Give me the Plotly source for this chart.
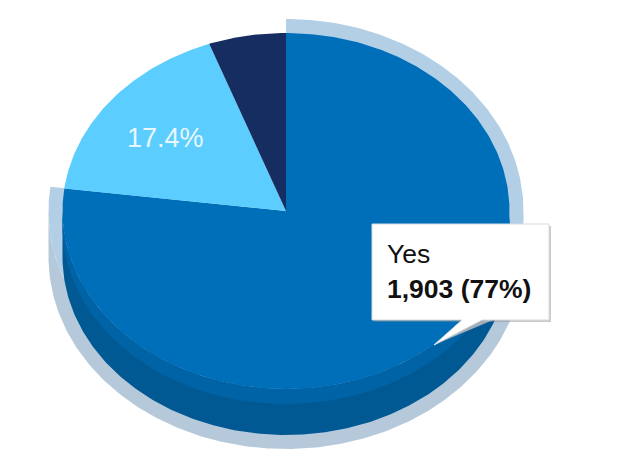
import numpy as np
import plotly.graph_objects as go

categories = ["Yes", "Somewhat", "No"]
values = [1903, 430, 138]
slice_colors = ["#006fba", "#5bcdfe", "#152d60"]
tooltip_category = "Yes"
shown_label = "Somewhat"

CX, CY, RX, RY = 286, 211, 223.5, 178
DEPTH, BAND = 46, 15
HALO = 14

total = sum(values)
fracs = [v / total for v in values]
edges = np.cumsum([0] + fracs) * 2 * np.pi


def arc(t0, t1, rx=RX, ry=RY, dy=0):
    t = np.linspace(t0, t1, max(3, int(abs(t1 - t0) * 80)))
    return CX + rx * np.sin(t), CY + dy - ry * np.cos(t)


def poly(x, y, color, opacity=1.0):
    return go.Scatter(x=list(x), y=list(y), mode="lines", fill="toself", fillcolor=color,
                      line=dict(width=0, color=color), opacity=opacity, hoverinfo="skip",
                      showlegend=False)


fig = go.Figure()

# highlight ring: greyer extruded part behind the side, lighter part behind the face
end = edges[1]
xa, ya = arc(np.pi / 2, 3 * np.pi / 2, RX + HALO, RY + HALO, DEPTH)
xb, yb = arc(3 * np.pi / 2, np.pi / 2, RX + HALO, RY + HALO)
fig.add_trace(poly(np.r_[xa, xb], np.r_[ya, yb], "#b5c9db"))
x1, y1 = arc(0, end, RX + HALO, RY + HALO)
fig.add_trace(poly(np.r_[CX, x1, CX], np.r_[CY, y1, CY], "#b3cfe6"))

# pie side
for dy, col in ((DEPTH, "#005993"), (BAND, "#0063a6")):
    xa, ya = arc(np.pi / 2, 3 * np.pi / 2, dy=dy)
    xb, yb = arc(3 * np.pi / 2, np.pi / 2)
    fig.add_trace(poly(np.r_[xa, xb], np.r_[ya, yb], col))

# pie faces
for i, col in enumerate(slice_colors):
    xs, ys = arc(edges[i], edges[i + 1])
    fig.add_trace(poly(np.r_[CX, xs, CX], np.r_[CY, ys, CY], col))

# tooltip
L, R, T, B = 372, 549, 224, 320
tip = (434, 345)
bx = [L, R, R, 482, tip[0], 462, L, L]
by = [T, T, B, B, tip[1], B, B, T]
fig.add_trace(poly([L + 2, R + 2, R + 2, L + 2, L + 2], [T + 2, T + 2, B + 2, B + 2, T + 2], "#8c8c8c", 0.45))
fig.add_trace(poly([462, 493, tip[0]], [B, B, tip[1]], "#a3adb6"))
fig.add_trace(go.Scatter(x=bx, y=by, mode="lines", fill="toself", fillcolor="#ffffff",
                         line=dict(width=1, color="#d5dde4"), hoverinfo="skip", showlegend=False))

idx = categories.index(tooltip_category)
ls = categories.index(shown_label)
mid = (edges[ls] + edges[ls + 1]) / 2
lx = CX + 0.69 * RX * np.sin(mid)
ly = CY - 0.66 * RY * np.cos(mid)

FONT = "Liberation Sans, Arial, sans-serif"
fig.add_annotation(x=lx, y=ly, text=f"{fracs[ls] * 100:.1f}%", showarrow=False,
                   font=dict(family=FONT, size=27, color="#e8f7ff"), xanchor="center", yanchor="middle")
fig.add_annotation(x=385, y=254, text=tooltip_category, showarrow=False,
                   font=dict(family=FONT, size=26.5, color="#111111"), xanchor="left", yanchor="middle")
fig.add_annotation(x=385, y=289, text=f"<b>{values[idx]:,} ({fracs[idx] * 100:.0f}%)</b>", showarrow=False,
                   font=dict(family=FONT, size=26.5, color="#111111"), xanchor="left", yanchor="middle")

fig.update_layout(
    width=618, height=471, margin=dict(l=0, r=0, t=0, b=0),
    paper_bgcolor="white", plot_bgcolor="white", showlegend=False,
    xaxis=dict(range=[0, 618], visible=False, fixedrange=True),
    yaxis=dict(range=[471, 0], visible=False, fixedrange=True),
)
fig.write_html("out.html", config={"displayModeBar": False},
               post_script="document.body.style.margin='0';document.documentElement.style.overflow='hidden';")
